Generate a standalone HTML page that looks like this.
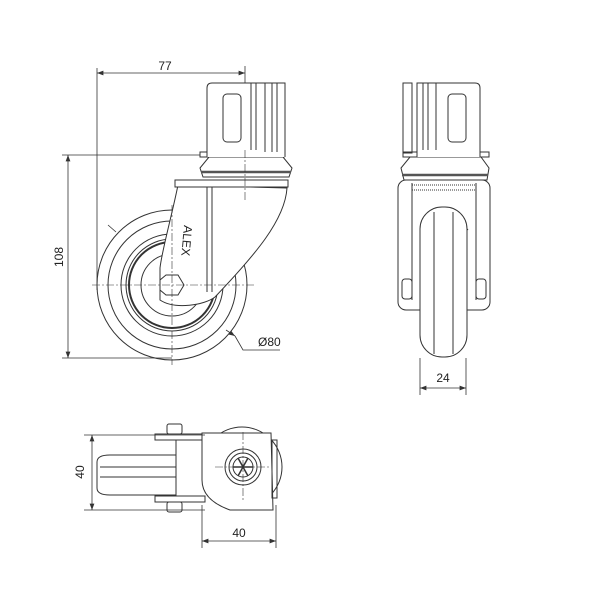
<!DOCTYPE html>
<html><head><style>body{margin:0;background:#fff}svg{display:block}text{font-family:"Liberation Sans",sans-serif;font-size:12px;fill:#222;stroke:none}</style></head><body>
<svg width="600" height="600" viewBox="0 0 600 600" fill="none" stroke="#333" stroke-width="1">
<defs><marker id="a" markerWidth="8" markerHeight="6" refX="8" refY="3" orient="auto-start-reverse"><path d="M0,0 L8,3 L0,6z" fill="#333" stroke="none"/></marker></defs>
<!-- SIDE VIEW -->
<g stroke-width="0.8">
<line x1="97" y1="68" x2="97" y2="290"/>
<line x1="245" y1="66" x2="245" y2="84"/>
<line x1="97" y1="73" x2="245" y2="73" marker-start="url(#a)" marker-end="url(#a)"/>
<line x1="62" y1="155" x2="200" y2="155"/>
<line x1="62" y1="358" x2="172" y2="358"/>
<line x1="68" y1="155" x2="68" y2="358" marker-start="url(#a)" marker-end="url(#a)"/>
<polyline points="235,336 243,350 280,350"/>
<line x1="108" y1="225" x2="116" y2="232"/>
<line x1="226" y1="330" x2="235" y2="336" marker-end="url(#a)"/>
</g>
<text x="165" y="70" text-anchor="middle">77</text>
<text x="63" y="257" text-anchor="middle" transform="rotate(-90 63 257)">108</text>
<text x="258" y="346">Ø80</text>
<g stroke-width="1">
<circle cx="172" cy="285" r="75"/>
<circle cx="172" cy="285" r="64"/>
<circle cx="172" cy="285" r="51"/>
<circle cx="172" cy="285" r="46"/>
<circle cx="172" cy="285" r="43" stroke-width="2"/>
<circle cx="172" cy="285" r="31"/>
<path d="M178,185 C172,215 162,250 160,268 L160,300 C175,310 205,305 215,297 C255,255 285,220 287,188 Z" fill="#fff"/>
<line x1="207" y1="184" x2="207" y2="292"/>
<line x1="212" y1="184" x2="212" y2="292"/>
<rect x="175" y="180" width="113" height="7" fill="#fff"/>
<polygon points="160,280 166,275 178,275 184,285 178,295 166,295 160,290" fill="#fff"/>
<path d="M203,177 L200,168 L209,157 L283,157 L292,168 L289,177 Z" fill="#fff"/>
<line x1="201" y1="172" x2="291" y2="172" stroke-width="2.5" stroke="#555"/>
<rect x="200" y="152" width="84" height="5" fill="#fff"/>
<path d="M207,157 L207,88 Q207,83 212,83 L285,83 L285,157" fill="#fff"/>
<rect x="223" y="94" width="18" height="48" rx="4"/>
<line x1="251" y1="83" x2="251" y2="150"/><line x1="256" y1="83" x2="256" y2="150"/>
<line x1="265" y1="83" x2="265" y2="152"/><line x1="272" y1="83" x2="272" y2="152"/>
<line x1="277" y1="83" x2="277" y2="152"/>
<text x="184" y="225" font-size="8" fill="#555" transform="rotate(95 184 225)">ALEX</text>
</g>
<g stroke-width="0.6" stroke-dasharray="8,2,2,2">
<line x1="92" y1="285" x2="255" y2="285"/><line x1="172" y1="205" x2="172" y2="365"/>
<line x1="245" y1="150" x2="245" y2="200"/>
</g>
<!-- FRONT VIEW -->
<g>
<rect x="398" y="180" width="92" height="130" rx="8" fill="#fff"/>
<line x1="412" y1="183" x2="412" y2="300"/><line x1="476" y1="183" x2="476" y2="300"/>
<rect x="412" y="185" width="64" height="5" stroke-dasharray="1,1"/>
<path d="M420,230 Q444,198 468,230" />
<rect x="420" y="207" width="47" height="150" rx="22" fill="#fff"/>
<line x1="434" y1="212" x2="434" y2="354"/><line x1="453" y1="212" x2="453" y2="354"/>
<rect x="402" y="279" width="10" height="20" rx="3" fill="#fff"/>
<rect x="476" y="279" width="10" height="20" rx="3" fill="#fff"/>
<path d="M404,180 L401,168 L410,157 L481,157 L489,168 L487,180 Z" fill="#fff"/>
<line x1="402" y1="175" x2="488" y2="175" stroke-width="2.5" stroke="#555"/>
<rect x="403" y="152" width="86" height="5" fill="#fff"/>
<path d="M417,157 L417,83 L475,83 Q480,83 480,88 L480,157" fill="#fff"/>
<rect x="403" y="83" width="9" height="70"/>
<rect x="448" y="94" width="18" height="48" rx="4"/>
<line x1="423" y1="83" x2="423" y2="150"/><line x1="428" y1="83" x2="428" y2="150"/><line x1="436" y1="83" x2="436" y2="150"/>
<g stroke-width="0.8">
<line x1="420" y1="358" x2="420" y2="395"/><line x1="466" y1="358" x2="466" y2="395"/>
<line x1="420" y1="388" x2="466" y2="388" marker-start="url(#a)" marker-end="url(#a)"/>
</g>
<text x="443" y="382" text-anchor="middle">24</text>
</g>
<!-- BOTTOM VIEW -->
<g>
<circle cx="242" cy="467" r="40" fill="#fff"/>
<path d="M97,462 Q97,455 110,455 L176,455 L176,495 L110,495 Q97,495 97,488 Z" fill="#fff"/>
<line x1="100" y1="467" x2="176" y2="467"/><line x1="100" y1="477" x2="176" y2="477"/>
<rect x="155" y="434" width="50" height="6" fill="#fff"/>
<rect x="155" y="496" width="50" height="6" fill="#fff"/>
<rect x="167" y="424" width="15" height="10" rx="2" fill="#fff"/>
<rect x="167" y="502" width="15" height="10" rx="2" fill="#fff"/>
<line x1="176" y1="440" x2="176" y2="496"/>
<path d="M202,433 L271,433 L273,510 L230,510 Q202,500 202,480 Z" fill="#fff"/>
<rect x="272" y="440" width="5" height="58"/>
<circle cx="243" cy="467" r="18"/><circle cx="243" cy="467" r="14"/><circle cx="243" cy="467" r="10"/>
<g stroke-width="1.5"><line x1="233" y1="467" x2="253" y2="467"/><line x1="238" y1="458" x2="248" y2="476"/><line x1="248" y1="458" x2="238" y2="476"/></g>
<g stroke-width="0.6" stroke-dasharray="8,2,2,2"><line x1="215" y1="467" x2="270" y2="467"/><line x1="243" y1="432" x2="243" y2="500"/></g>
<g stroke-width="0.8">
<line x1="84" y1="435" x2="205" y2="435"/><line x1="84" y1="510" x2="205" y2="510"/>
<line x1="92" y1="435" x2="92" y2="510" marker-start="url(#a)" marker-end="url(#a)"/>
<line x1="202" y1="505" x2="202" y2="548"/><line x1="276" y1="505" x2="276" y2="548"/>
<line x1="202" y1="541" x2="276" y2="541" marker-start="url(#a)" marker-end="url(#a)"/>
</g>
<text x="84" y="472" text-anchor="middle" transform="rotate(-90 84 472)">40</text>
<text x="239" y="537" text-anchor="middle">40</text>
</g>
</svg>
</body></html>
